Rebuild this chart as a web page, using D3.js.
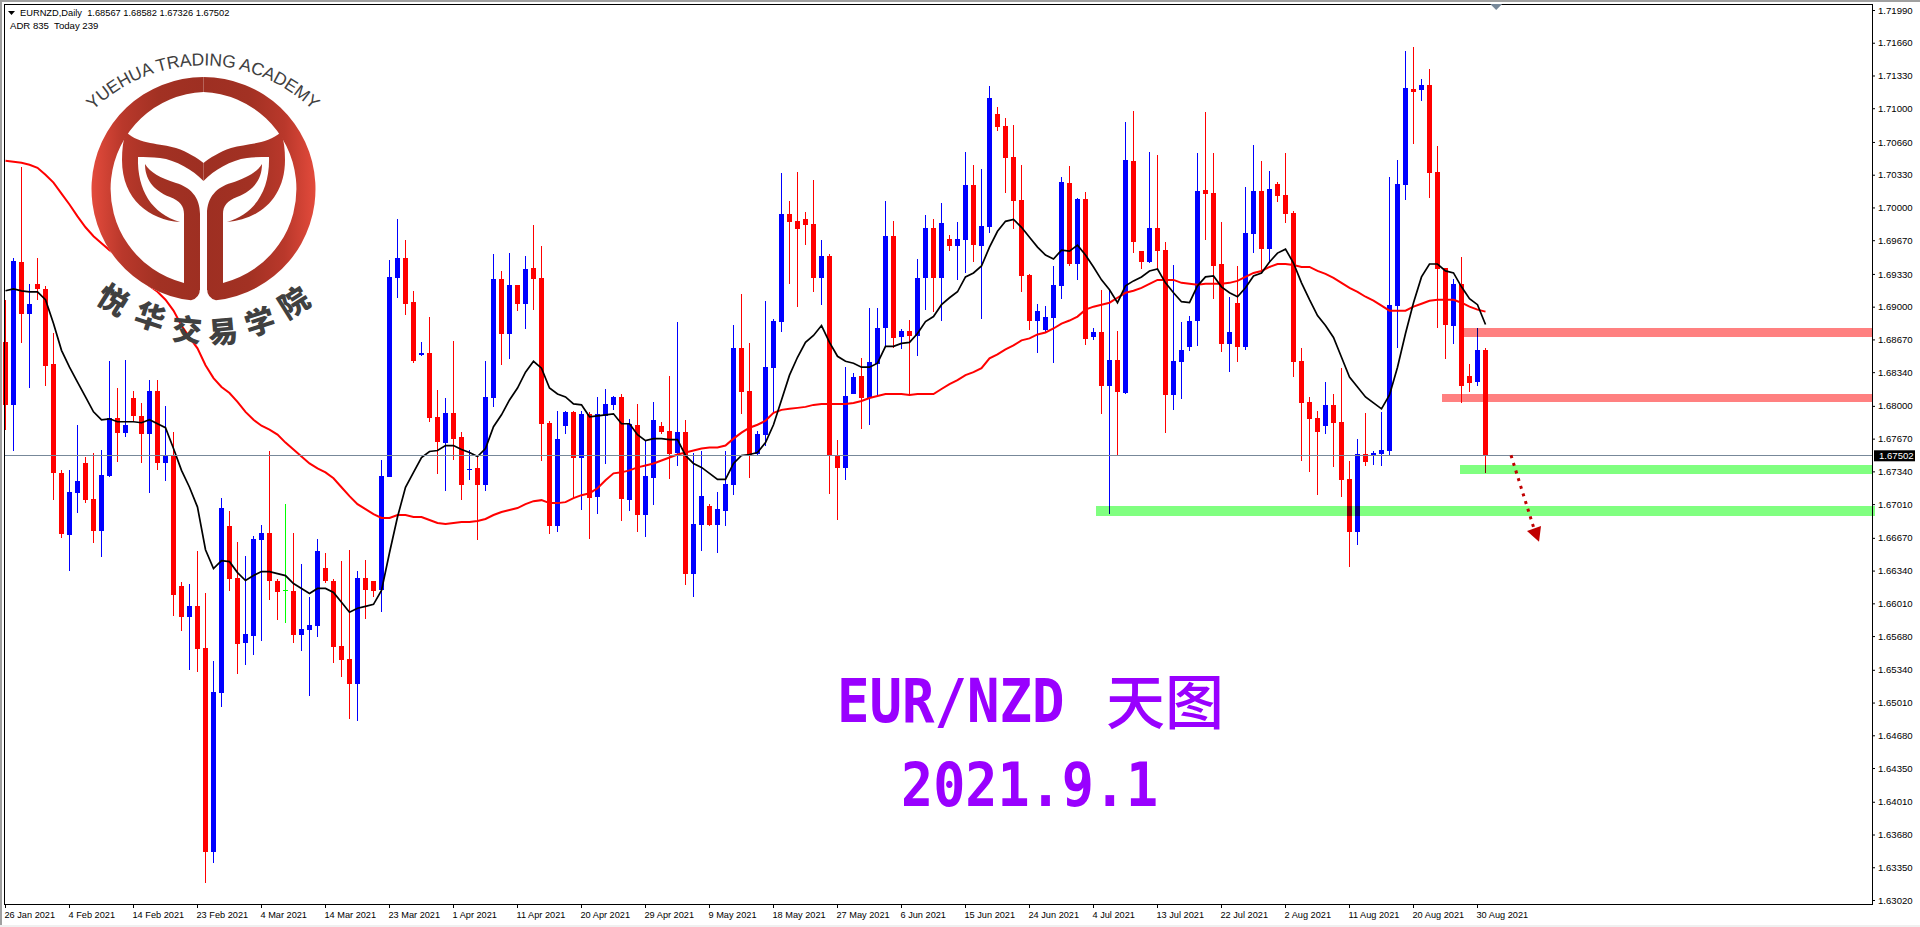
<!DOCTYPE html>
<html><head><meta charset="utf-8">
<script src="https://cdn.jsdelivr.net/npm/d3@7"></script>
<style>
html,body{margin:0;padding:0;background:#fff;overflow:hidden}
svg{display:block}
.axis text{font-family:"Liberation Sans",Arial,sans-serif;font-size:9.6px;fill:#000}
.axis line{stroke:#000}
</style></head><body>
<svg id="chart" width="1920" height="927"></svg>
<script>
const opens=[
1.6864,1.6801,1.6945,1.6893,1.6923,1.6918,1.6842,1.6732,1.6670,1.6712,
1.6742,1.6706,1.6674,1.6729,1.6788,1.6773,1.6808,1.6790,1.6772,1.6815,
1.6742,1.6749,1.6618,1.6587,1.6598,1.6556,1.6350,1.6511,1.6679,1.6627,
1.6561,1.6568,1.6665,1.6672,1.6624,1.6614,1.6613,1.6569,1.6574,1.6578,
1.6637,1.6624,1.6558,1.6545,1.6520,1.6627,1.6624,1.6614,1.6728,1.6929,
1.6949,1.6905,1.6851,1.6853,1.6789,1.6763,1.6793,1.6769,1.6735,1.6737,
1.6720,1.6808,1.6928,1.6872,1.6922,1.6903,1.6939,1.6929,1.6783,1.6679,
1.6780,1.6794,1.6747,1.6792,1.6708,1.6790,1.6801,1.6809,1.6705,1.6781,
1.6690,1.6727,1.6780,1.6775,1.6753,1.6774,1.6631,1.6680,1.6699,1.6680,
1.6694,1.6720,1.6858,1.6815,1.6752,1.6771,1.6838,1.6885,1.6993,1.6986,
1.6988,1.6983,1.6929,1.6951,1.6751,1.6737,1.6812,1.6830,1.6808,1.6842,
1.6878,1.6971,1.6869,1.6875,1.6870,1.6929,1.6979,1.6929,1.6968,1.6961,
1.6967,1.7023,1.6961,1.6980,1.7094,1.7082,1.7051,1.7008,1.6932,1.6886,
1.6876,1.6889,1.6921,1.7025,1.6943,1.7009,1.6869,1.6874,1.6820,1.6846,
1.6813,1.7047,1.6956,1.6945,1.6979,1.6957,1.6811,1.6844,1.6859,1.6886,
1.7018,1.7015,1.6943,1.6862,1.6904,1.6859,1.6973,1.7017,1.6958,1.7024,
1.7013,1.6994,1.6845,1.6804,1.6788,1.6780,1.6801,1.6784,1.6726,1.6673,
1.6752,1.6750,1.6752,1.6755,1.6901,1.7023,1.7119,1.7118,1.7123,1.7036,
1.6939,1.6881,1.6923,1.6830,1.6824,1.68567];
const highs=[
1.6907,1.6949,1.7041,1.6923,1.6949,1.6921,1.6873,1.6735,1.6735,1.6781,
1.6748,1.6753,1.6756,1.6845,1.6818,1.6846,1.6815,1.6803,1.6826,1.6826,
1.6800,1.6774,1.6622,1.6620,1.6654,1.6611,1.6543,1.6707,1.6694,1.6663,
1.6649,1.6669,1.6680,1.6755,1.6626,1.6701,1.6672,1.6641,1.6607,1.6666,
1.6652,1.6626,1.6644,1.6655,1.6634,1.6645,1.6624,1.6745,1.6947,1.6988,
1.6967,1.6916,1.6864,1.6890,1.6816,1.6808,1.6865,1.6774,1.6756,1.6748,
1.6845,1.6953,1.6936,1.6954,1.6922,1.6951,1.6982,1.6961,1.6785,1.6795,
1.6795,1.6795,1.6795,1.6794,1.6809,1.6817,1.6810,1.6812,1.6787,1.6802,
1.6765,1.6804,1.6784,1.6830,1.6885,1.6786,1.6753,1.6755,1.6701,1.6713,
1.6755,1.6882,1.6913,1.6863,1.6775,1.6906,1.6888,1.7035,1.7007,1.7036,
1.6995,1.7028,1.6967,1.6953,1.6766,1.6839,1.6833,1.6848,1.6899,1.6899,
1.7007,1.6986,1.6877,1.6887,1.6948,1.6992,1.6988,1.7004,1.6972,1.6985,
1.7056,1.7043,1.7039,1.7122,1.7101,1.7090,1.7083,1.7043,1.6933,1.6903,
1.6901,1.6941,1.7031,1.7042,1.7010,1.7016,1.6878,1.6917,1.6917,1.6875,
1.7086,1.7097,1.6956,1.7056,1.7053,1.6965,1.6942,1.6885,1.6891,1.7055,
1.7096,1.7055,1.6985,1.6910,1.6941,1.7021,1.7063,1.7047,1.7037,1.7026,
1.7055,1.6996,1.6858,1.6809,1.6795,1.6824,1.6812,1.6838,1.6744,1.6767,
1.6793,1.6755,1.6794,1.7031,1.7048,1.7158,1.7162,1.7129,1.7140,1.7062,
1.6939,1.6928,1.6950,1.6842,1.6879,1.68582];
const lows=[
1.6776,1.6755,1.6863,1.6818,1.6907,1.6820,1.6705,1.6667,1.6634,1.6692,
1.6702,1.6662,1.6648,1.6728,1.6743,1.6769,1.6784,1.6742,1.6712,1.6735,
1.6724,1.6588,1.6573,1.6534,1.6532,1.6319,1.6339,1.6497,1.6613,1.6530,
1.6539,1.6549,1.6563,1.6604,1.6584,1.6581,1.6561,1.6553,1.6508,1.6567,
1.6621,1.6541,1.6527,1.6484,1.6482,1.6585,1.6607,1.6592,1.6728,1.6909,
1.6892,1.6843,1.6850,1.6784,1.6731,1.6714,1.6745,1.6705,1.6725,1.6665,
1.6714,1.6799,1.6841,1.6847,1.6896,1.6877,1.6897,1.6744,1.6671,1.6673,
1.6772,1.6706,1.6695,1.6666,1.6691,1.6741,1.6796,1.6684,1.6694,1.6673,
1.6668,1.6700,1.6772,1.6726,1.6739,1.6619,1.6607,1.6654,1.6679,1.6652,
1.6679,1.6710,1.6792,1.6727,1.6750,1.6760,1.6793,1.6874,1.6923,1.6900,
1.6962,1.6915,1.6902,1.6711,1.6685,1.6725,1.6812,1.6777,1.6781,1.6810,
1.6859,1.6858,1.6857,1.6811,1.6850,1.6897,1.6895,1.6886,1.6956,1.6927,
1.6934,1.6945,1.6888,1.6974,1.7077,1.7015,1.6978,1.6915,1.6876,1.6853,
1.6874,1.6843,1.6908,1.6941,1.6927,1.6861,1.6866,1.6792,1.6691,1.6751,
1.6812,1.6954,1.6938,1.6944,1.6937,1.6773,1.6796,1.6807,1.6855,1.6860,
1.6967,1.6908,1.6854,1.6834,1.6844,1.6856,1.6954,1.6937,1.6944,1.7005,
1.6984,1.6829,1.6744,1.6733,1.6710,1.6772,1.6738,1.6708,1.6638,1.6660,
1.6739,1.6740,1.6739,1.6750,1.6858,1.7008,1.7064,1.7107,1.7010,1.6878,
1.6847,1.6862,1.6803,1.6814,1.6820,1.67326];
const closes=[
1.6801,1.6946,1.6893,1.6903,1.6918,1.6840,1.6732,1.6671,1.6713,1.6724,
1.6705,1.6674,1.6730,1.6788,1.6773,1.6781,1.6790,1.6772,1.6815,1.6742,
1.6749,1.6609,1.6587,1.6598,1.6555,1.6350,1.6512,1.6697,1.6626,1.6560,
1.6570,1.6666,1.6672,1.6624,1.6612,1.6614,1.6569,1.6575,1.6579,1.6654,
1.6624,1.6557,1.6544,1.6520,1.6627,1.6614,1.6613,1.6729,1.6930,1.6949,
1.6903,1.6845,1.6853,1.6788,1.6764,1.6793,1.6767,1.6720,1.6736,1.6720,
1.6809,1.6928,1.6872,1.6922,1.6903,1.6938,1.6928,1.6782,1.6679,1.6767,
1.6794,1.6747,1.6792,1.6707,1.6792,1.6802,1.6809,1.6706,1.6782,1.6690,
1.6729,1.6786,1.6774,1.6752,1.6774,1.6631,1.6681,1.6709,1.6680,1.6696,
1.6721,1.6858,1.6814,1.6751,1.6772,1.6839,1.6886,1.6993,1.6985,1.6978,
1.6982,1.6929,1.6951,1.6750,1.6737,1.6810,1.6829,1.6808,1.6844,1.6879,
1.6971,1.6868,1.6875,1.6870,1.6929,1.6979,1.6929,1.6984,1.6961,1.6968,
1.7023,1.6962,1.6981,1.7110,1.7081,1.7050,1.7006,1.6931,1.6886,1.6896,
1.6890,1.6922,1.7026,1.6943,1.7009,1.6867,1.6874,1.6820,1.6846,1.6814,
1.7048,1.6965,1.6945,1.6979,1.6956,1.6811,1.6845,1.6856,1.6886,1.7017,
1.7014,1.6941,1.6862,1.6874,1.6859,1.6974,1.7017,1.6958,1.7019,1.7012,
1.6993,1.6844,1.6803,1.6787,1.6774,1.6801,1.6783,1.6725,1.6673,1.6752,
1.6743,1.6753,1.6756,1.6902,1.7024,1.7120,1.7116,1.7123,1.7035,1.6938,
1.6882,1.6923,1.6820,1.6823,1.6856,1.67502];
const slowMA=[
1.7047,1.7046,1.7045,1.7043,1.7040,1.7033,1.7025,1.7014,1.7003,1.6991,
1.6980,1.6971,1.6964,1.6957,1.6951,1.6942,1.6934,1.6927,1.6921,1.6915,
1.6907,1.6896,1.6881,1.6869,1.6858,1.6841,1.6828,1.6819,1.6813,1.6804,
1.6794,1.6786,1.6780,1.6776,1.6771,1.6763,1.6756,1.6749,1.6742,1.6737,
1.6733,1.6727,1.6718,1.6709,1.6701,1.6696,1.6691,1.6687,1.6687,1.6690,
1.6690,1.6688,1.6688,1.6685,1.6682,1.6681,1.6682,1.6683,1.6683,1.6684,
1.6686,1.6690,1.6693,1.6695,1.6697,1.6701,1.6704,1.6705,1.6702,1.6702,
1.6703,1.6707,1.6710,1.6712,1.6717,1.6725,1.6732,1.6733,1.6735,1.6738,
1.6740,1.6742,1.6745,1.6748,1.6751,1.6753,1.6755,1.6757,1.6758,1.6758,
1.6760,1.6767,1.6773,1.6778,1.6781,1.6785,1.6793,1.6796,1.6797,1.6798,
1.6799,1.6801,1.6802,1.6802,1.6802,1.6802,1.6803,1.6805,1.6808,1.6810,
1.6812,1.6812,1.6812,1.6811,1.6812,1.6812,1.6812,1.6817,1.6822,1.6826,
1.6831,1.6834,1.6838,1.6848,1.6852,1.6857,1.6861,1.6866,1.6868,1.6872,
1.6874,1.6878,1.6883,1.6886,1.6890,1.6897,1.6900,1.6902,1.6904,1.6909,
1.6914,1.6916,1.6919,1.6923,1.6927,1.6927,1.6927,1.6924,1.6923,1.6922,
1.6923,1.6923,1.6923,1.6924,1.6926,1.6930,1.6934,1.6936,1.6940,1.6943,
1.6943,1.6942,1.6940,1.6940,1.6936,1.6933,1.6929,1.6924,1.6919,1.6915,
1.6910,1.6906,1.6901,1.6896,1.6896,1.6896,1.6900,1.6903,1.6906,1.6907,
1.6907,1.6907,1.6904,1.6900,1.6897,1.6895];
const fastMA=[
1.6916,1.6918,1.6916,1.6915,1.6915,1.6907,1.6883,1.6856,1.6839,1.6824,
1.6809,1.6794,1.6786,1.6787,1.6784,1.6784,1.6784,1.6783,1.6786,1.6782,
1.6778,1.6757,1.6735,1.6718,1.6698,1.6655,1.6636,1.6644,1.6643,1.6632,
1.6624,1.6629,1.6633,1.6633,1.6631,1.6629,1.6621,1.6616,1.6611,1.6616,
1.6616,1.6612,1.6602,1.6592,1.6596,1.6598,1.6600,1.6614,1.6652,1.6688,
1.6718,1.6733,1.6748,1.6754,1.6755,1.6760,1.6760,1.6756,1.6753,1.6749,
1.6757,1.6779,1.6791,1.6806,1.6818,1.6834,1.6845,1.6838,1.6818,1.6812,
1.6809,1.6802,1.6801,1.6789,1.6790,1.6791,1.6792,1.6782,1.6782,1.6771,
1.6765,1.6767,1.6767,1.6766,1.6766,1.6750,1.6742,1.6738,1.6732,1.6726,
1.6726,1.6742,1.6750,1.6751,1.6753,1.6763,1.6781,1.6806,1.6831,1.6849,
1.6864,1.6871,1.6881,1.6864,1.6850,1.6845,1.6843,1.6839,1.6839,1.6843,
1.6860,1.6860,1.6863,1.6864,1.6873,1.6885,1.6890,1.6902,1.6909,1.6915,
1.6930,1.6934,1.6941,1.6960,1.6976,1.6986,1.6988,1.6980,1.6970,1.6960,
1.6952,1.6948,1.6957,1.6956,1.6962,1.6952,1.6940,1.6927,1.6917,1.6904,
1.6921,1.6926,1.6930,1.6936,1.6938,1.6924,1.6914,1.6905,1.6904,1.6921,
1.6930,1.6931,1.6920,1.6914,1.6910,1.6919,1.6931,1.6934,1.6945,1.6954,
1.6958,1.6944,1.6924,1.6907,1.6891,1.6881,1.6869,1.6849,1.6829,1.6819,
1.6809,1.6803,1.6797,1.6811,1.6839,1.6873,1.6904,1.6930,1.6943,1.6943,
1.6936,1.6934,1.6920,1.6908,1.6902,1.6882];
const dateLabels=["26 Jan 2021","4 Feb 2021","14 Feb 2021","23 Feb 2021","4 Mar 2021","14 Mar 2021","23 Mar 2021","1 Apr 2021","11 Apr 2021","20 Apr 2021","29 Apr 2021","9 May 2021","18 May 2021","27 May 2021","6 Jun 2021","15 Jun 2021","24 Jun 2021","4 Jul 2021","13 Jul 2021","22 Jul 2021","2 Aug 2021","11 Aug 2021","20 Aug 2021","30 Aug 2021"];
const priceTicks=[1.7199,1.7166,1.7133,1.71,1.7066,1.7033,1.70,1.6967,1.6933,1.69,1.6867,1.6834,1.68,1.6767,1.6734,1.6701,1.6667,1.6634,1.6601,1.6568,1.6534,1.6501,1.6468,1.6435,1.6401,1.6368,1.6335,1.6302];
const lastPrice=1.67502;
const zoneTop=[1.6879,1.6812,1.6740,1.6699];
const zoneBottom=[1.6869,1.6804,1.6731,1.6689];
const zoneStart=[182.4,179.6,181.9,136.4];
const zoneFill=["#ff8080","#ff8080","#80ff80","#80ff80"];
const arrowBars=[188.25,191.1];
const arrowPrices=[1.67502,1.6677];
const headBars=[190.25,192,191.75];
const headPrices=[1.6674,1.6679,1.6663];
const headerLine1="EURNZD,Daily  1.68567 1.68582 1.67326 1.67502";
const headerLine2="ADR 835  Today 239";
const logoLatin="YUEHUA TRADING ACADEMY";
const logoCJK=["悦","华","交","易","学","院"];
const logoCJKx=[113,150,187,223,260,294];
const logoCJKy=[300,317,330,332,322,303];
const logoCJKr=[32,18,5,-5,-18,-32];

const W=1920,H=927,frame={l:4,t:4,r:1872,b:904};
const svg=d3.select("#chart");
const x=d3.scaleLinear().domain([0,185]).range([5,1485]);
const y=d3.scaleLinear().domain([1.7199,1.6302]).range([10,900]);
const bars=d3.range(opens.length).map(i=>({i,o:opens[i],h:highs[i],l:lows[i],c:closes[i]}));
const col=d=>d.c>d.o?"#0000ff":d.c<d.o?"#ff0000":"#00ff00";

svg.append("rect").attr("width",W).attr("height",H).attr("fill","#fff");
svg.append("rect").attr("width",W).attr("height",2).attr("fill","#a0a0a0");
svg.append("rect").attr("width",2).attr("height",H).attr("fill","#a0a0a0");
svg.append("rect").attr("y",925).attr("width",W).attr("height",2).attr("fill","#f0f0f0");

const plot=svg.append("g").style("isolation","isolate");
plot.append("rect").attr("x",frame.l).attr("y",frame.t).attr("width",frame.r-frame.l).attr("height",frame.b-frame.t).attr("fill","#fff");
const candles=plot.append("g").attr("shape-rendering","crispEdges");
candles.selectAll(".wick").data(bars).join("rect").attr("class","wick")
 .attr("x",d=>x(d.i)).attr("width",1)
 .attr("y",d=>Math.round(y(d.h))).attr("height",d=>Math.max(1,Math.round(y(d.l))-Math.round(y(d.h))))
 .attr("fill",col);
candles.selectAll(".body").data(bars).join("rect").attr("class","body")
 .attr("x",d=>x(d.i)-2).attr("width",5)
 .attr("y",d=>Math.round(y(Math.max(d.o,d.c)))).attr("height",d=>Math.max(1,Math.round(y(Math.min(d.o,d.c)))-Math.round(y(Math.max(d.o,d.c)))))
 .attr("fill",col);
const line=d3.line().x((d,i)=>x(i)+.5).y(d=>y(d));
plot.append("path").datum(slowMA).attr("d",line).attr("fill","none").attr("stroke","#ff0000").attr("stroke-width",2);
plot.append("path").datum(fastMA).attr("d",line).attr("fill","none").attr("stroke","#000").attr("stroke-width",1.7);
plot.append("rect").attr("x",5).attr("width",frame.r-5).attr("y",Math.round(y(lastPrice))).attr("height",1).attr("fill","#778899");
plot.append("g").attr("shape-rendering","crispEdges").selectAll("rect").data(zoneTop).join("rect")
 .attr("x",(d,i)=>x(zoneStart[i])).attr("y",d=>y(d))
 .attr("width",(d,i)=>(i==3?1875:frame.r)-x(zoneStart[i]))
 .attr("height",(d,i)=>y(zoneBottom[i])-y(d))
 .attr("fill",(d,i)=>zoneFill[i]).style("mix-blend-mode","multiply");
plot.append("path").attr("d",d3.line()(arrowBars.map((b,i)=>[x(b),y(arrowPrices[i])])))
 .attr("fill","none").attr("stroke","#c00000").attr("stroke-width",3).attr("stroke-dasharray","3 5");
plot.append("path").attr("d",d3.line()(headBars.map((b,i)=>[x(b),y(headPrices[i])]))+"Z").attr("fill","#c00000");

// logo
const defs=svg.append("defs");
const g=defs.append("linearGradient").attr("id","logoGrad").attr("gradientUnits","userSpaceOnUse").attr("x1",91).attr("x2",316).attr("y1",0).attr("y2",0);
[[0,"#e44b3c"],[.14,"#b9382b"],[.3,"#a23123"],[.5,"#9e2f22"],[.7,"#a23123"],[.86,"#b9382b"],[1,"#e44b3c"]].forEach(s=>g.append("stop").attr("offset",s[0]).attr("stop-color",s[1]));
const logo=svg.append("g");
logo.append("circle").attr("cx",203.5).attr("cy",189).attr("r",112).attr("fill","#fff");
const half=logo.append("g").attr("fill","url(#logoGrad)");
const halfPaths=[
 "M203.5,77 A112,112 0 0 0 191,300.3 Q200,298 200,288 L200,283 L184,283 A97,97 0 0 1 203.5,92 Z",
 "M145,164 C150,172 160,178 176,183 C190,187 200,197 200,214 L200,290 L184,290 L184,214 C184,206 180,201 170,197 C152,190 145,178 145,164 Z",
 "M126,132 C140,145 160,143 176,148 C188,152 197,158 203.5,163 L203.5,181 C193,170 176,160 160,158 C152,157 145,157 138,157 C137,190 152,214 180,222 C150,220 122,200 122,160 C122,150 123,140 126,132 Z"];
halfPaths.forEach(p=>{
 half.append("path").attr("d",p);
 half.append("path").attr("d",p).attr("transform","translate(407,0) scale(-1,1)");
});
defs.append("path").attr("id","logoArc").attr("d","M70,139 A157,157 0 0 1 336,139");
logo.append("text").attr("font-family","Liberation Sans,Arial,sans-serif").attr("font-size",17.5).attr("fill","#404040")
 .attr("text-anchor","middle").append("textPath").attr("href","#logoArc").attr("startOffset","50%")
 .attr("textLength",243).attr("lengthAdjust","spacing").text(logoLatin);
logo.selectAll(".cjk").data(logoCJK).join("text").attr("class","cjk")
 .attr("transform",(d,i)=>`translate(${logoCJKx[i]},${logoCJKy[i]}) rotate(${logoCJKr[i]})`)
 .attr("text-anchor","middle").attr("dy","0.36em")
 .attr("font-family","Noto Sans CJK SC").attr("font-weight",900).attr("font-size",30).attr("fill","#404040").text(d=>d);

// big captions
const purple="#9900ff";
svg.append("text").attr("transform","translate(837,722) scale(.9,1)").attr("font-family","DejaVu Sans Mono").attr("font-weight",700).attr("font-size",60).attr("fill",purple).text("EUR/NZD");
svg.append("text").attr("x",1106).attr("y",724).attr("font-family","Noto Sans CJK SC").attr("font-weight",500).attr("font-size",59).attr("fill",purple).text("天图");
svg.append("text").attr("transform","translate(901,806) scale(.89,1)").attr("font-family","DejaVu Sans Mono").attr("font-weight",700).attr("font-size",60).attr("fill",purple).text("2021.9.1");

// frame and axes
svg.append("rect").attr("x",frame.l+.5).attr("y",frame.t+.5).attr("width",frame.r-frame.l).attr("height",frame.b-frame.t).attr("fill","none").attr("stroke","#000").attr("shape-rendering","crispEdges");
const ay=d3.axisRight(y).tickValues(priceTicks).tickFormat(d3.format(".5f")).tickSize(3).tickSizeOuter(0).tickPadding(3);
const gy=svg.append("g").attr("class","axis").attr("transform",`translate(${frame.r},0)`).call(ay);
gy.select(".domain").remove();
const ax=d3.axisBottom(x).tickValues(d3.range(dateLabels.length).map(k=>k*8)).tickFormat(v=>dateLabels[v/8]).tickSize(4).tickPadding(3);
const gx=svg.append("g").attr("class","axis").attr("transform",`translate(0,${frame.b})`).call(ax);
gx.select(".domain").remove();
gx.selectAll("text").attr("text-anchor","start").attr("x",-1).style("font-size","9.2px");

// last price tag
svg.append("rect").attr("x",1874).attr("y",y(lastPrice)-5).attr("width",41).attr("height",11).attr("fill","#000");
svg.append("text").attr("x",1879).attr("y",y(lastPrice)+4).attr("font-family","Liberation Sans").attr("font-size",9.6).attr("fill","#fff").text(d3.format(".5f")(lastPrice));
svg.append("path").attr("d",d3.line()([[x(186.4)-6,4],[x(186.4)+6,4],[x(186.4),10]])+"Z").attr("fill","#778899");

// header
svg.append("path").attr("d","M8,11 L15,11 L11.5,15 Z").attr("fill","#000");
svg.append("text").attr("x",20).attr("y",16).attr("font-family","Liberation Sans").attr("font-size",9.3).style("white-space","pre").text(headerLine1);
svg.append("text").attr("x",10).attr("y",29).attr("font-family","Liberation Sans").attr("font-size",9.6).style("white-space","pre").text(headerLine2);
</script>
</body></html>
